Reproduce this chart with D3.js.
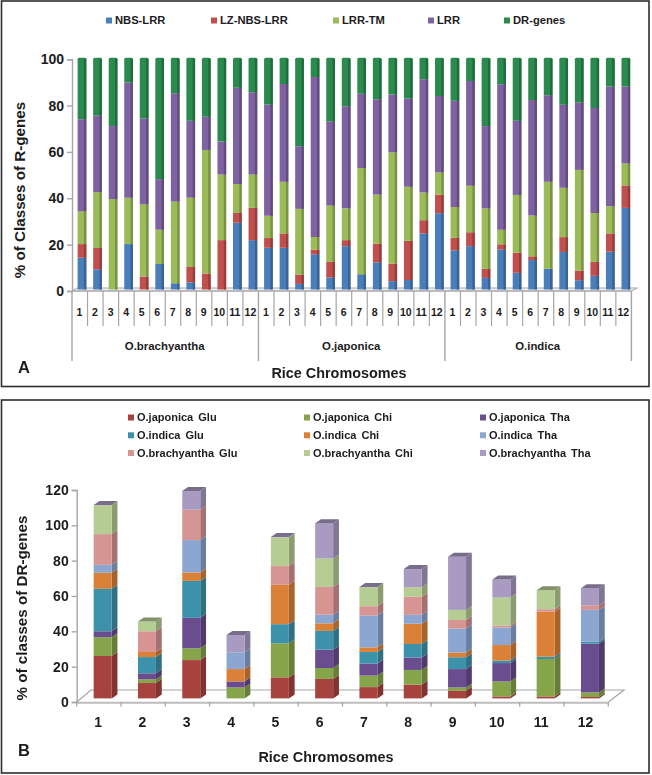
<!DOCTYPE html>
<html><head><meta charset="utf-8">
<script src="https://cdn.jsdelivr.net/npm/d3@7"></script>
<style>
html,body{margin:0;padding:0;background:#fff}
svg{display:block;filter:blur(0.4px)}
text{font-family:"Liberation Sans",Arial,sans-serif;font-weight:bold;fill:#1c1c1c}
</style></head><body><svg id="c" width="652" height="775"></svg>
<script>
// ---------- Panel A data ----------
const classKeys = ["NBS-LRR","LZ-NBS-LRR","LRR-TM","LRR","DR-genes"];
const classColors = ["#4a7ebb","#c0504d","#9bbb59","#7f62a1","#2b8a4e"];
const speciesA = ["O.brachyantha","O.japonica","O.indica"];
const chromosomes = ["1","2","3","4","5","6","7","8","9","10","11","12"];
const brachyShares = [
 [13.7,5.9,14.2,39.6,26.6],[8.7,9.2,24.1,33.1,24.9],[0,0,39,31.5,29.5],[19.6,0,20,49.7,10.7],
 [0,5.6,31.2,37,26.2],[11,0,14.8,21.8,52.4],[2.7,0,35.3,46.7,15.3],[3.1,6.6,29.9,33.2,27.2],
 [0,6.9,53.3,14.3,25.5],[0,21.3,28.3,14.2,36.2],[28.8,4.2,12.5,41.5,13],[21.3,13.9,14.4,35.5,14.9]];
const japonicaShares = [
 [18,4.2,9.6,48,20.2],[18,6.2,22.3,42.2,11.3],[2.4,4,28.4,27,38.2],[15.2,2,5.5,69,8.3],
 [5.2,6.7,24.3,36.3,27.5],[18.7,2.6,13.7,44.1,20.9],[6.6,0,45.8,32.1,15.5],[11.7,8,21.3,41.1,17.9],
 [3.6,7.6,48,24.9,15.9],[4.1,16.9,23.3,38.1,17.6],[24.2,5.7,11.9,48.9,9.3],[32.9,8,9.6,33,16.5]];
const indicaShares = [
 [16.9,5.4,13.3,45.8,18.6],[18.7,6,20.1,45.2,10],[5,3.9,26.1,35.5,29.5],[17.3,2.2,6.3,62.8,11.4],
 [7.2,8.7,24.9,32,27.2],[12.7,1.6,17.6,49.8,18.3],[9,0,37.5,37.3,16.2],[16.2,6.4,21.3,35.8,20.3],
 [4,4.2,43.4,29.1,19.3],[5.9,6,21.1,45.3,21.7],[16.3,7.9,11.7,51.7,12.4],[35.2,9.7,9.5,33.2,12.4]];
const ticksA = [0,20,40,60,80,100];

// ---------- Panel B data ----------
const drKeys = ["O.japonica Glu","O.japonica Chi","O.japonica Tha","O.indica Glu","O.indica Chi","O.indica Tha","O.brachyantha Glu","O.brachyantha Chi","O.brachyantha Tha"];
const drColors = ["#a8423f","#86a44a","#6a4d8e","#3d92ab","#da8137","#8ba6d0","#d69492","#b5cc92","#a99ac1"];
const japonicaGlu = [24,8.7,21.7,0,11.9,11,6.4,7.8,4.3,1.1,1.1,0.8];
const japonicaChi = [10.6,2.1,6.7,6.2,19.3,6.2,6.5,8.3,1.9,8.5,21.2,2.6];
const japonicaTha = [3.4,3.4,17.2,3.4,0,10.4,6.8,7,10.4,10.4,0,27.6];
const indicaGlu = [24,9.2,20.9,0,10.8,10.6,6.6,7.7,6.7,1.4,1.3,1.1];
const indicaChi = [9.1,2.9,4.8,7,22.3,4.3,2.6,11.5,2.6,8.8,25.5,0];
const indicaTha = [4.5,0,18.3,9.5,0,4.9,18,5,13.6,9.9,0,18];
const brachyGlu = [17.4,11.7,17.2,0,10.6,15.7,5.3,10.2,4.9,1.1,1.4,2.6];
const brachyChi = [16.3,5.5,0,0,16.2,16.1,10.7,5.4,5.7,15.9,10.7,0];
const brachyTha = [0.2,0,10.6,9.8,0.2,20,0.2,10.3,30.1,10.2,0,9.7];
const ticksB = [0,20,40,60,80,100,120];

// ---------- Layout constants ----------
const svg = d3.select("#c");
const grey = "#a6a6a6";
function frame(x,y,w,h){
  svg.append("rect").attr("x",x).attr("y",y).attr("width",w).attr("height",h)
    .attr("fill","#fff").attr("stroke","#2e2e2e").attr("stroke-width",1.6);
}
frame(1.5,1,647.5,385.5);
frame(1.5,400,647.5,373);

function line(g,x1,y1,x2,y2,c,w){
  g.append("line").attr("x1",x1).attr("y1",y1).attr("x2",x2).attr("y2",y2)
   .attr("stroke",c||grey).attr("stroke-width",w||1.3);
}
function label(g,x,y,t,size,anchor){
  return g.append("text").attr("x",x).attr("y",y).attr("dy","0.35em")
    .attr("font-size",size).attr("text-anchor",anchor||"middle").text(t);
}

// ---------- Panel A ----------
const gA = svg.append("g");
const rowsA = [...brachyShares,...japonicaShares,...indicaShares].map((r,i)=>{
  const o = {id:i}; classKeys.forEach((k,j)=>o[k]=r[j]); return o;});
const xA = d3.scaleBand().domain(d3.range(36)).range([72,631.4]).paddingInner(0.44).paddingOuter(0.22);
const yA = d3.scaleLinear().domain([0,100]).range([291,59.2]);
const stackA = d3.stack().keys(classKeys)(rowsA);
const ax0 = 72, ax1 = 631.4, ay0 = yA(0);
// floor
gA.append("path").attr("d",`M${ax0},${ay0}L${ax0+5},${ay0-3}H${ax1+6}L${ax1},${ay0}`).attr("fill","#f2f2f2").attr("stroke",grey).attr("stroke-width",1);
// y axis
const axisA = gA.append("g").attr("transform",`translate(${ax0},0)`)
  .call(d3.axisLeft(yA).tickValues(ticksA).tickSize(5).tickPadding(3));
axisA.selectAll("path,line").attr("stroke",grey).attr("stroke-width",1.4);
axisA.selectAll("text").attr("font-size",14).attr("font-family",null);
// bars
const dxA = 2.2, dyA = -1.5;
stackA.forEach((s,si)=>{
  const col = d3.color(classColors[si]);
  s.forEach(d=>{
    const x = xA(d.data.id)+dxA, w = xA.bandwidth(), y0 = yA(d[0])+dyA, y1 = yA(d[1])+dyA;
    if (d[1]-d[0] <= 0) return;
    const top = si === classKeys.length-1;
    const p = d3.path();
    p.moveTo(x,y0); p.lineTo(x,y1+(top?1.5:0));
    if(top) p.quadraticCurveTo(x,y1,x+1.5,y1);
    p.lineTo(x+w-(top?1.5:0),y1);
    if(top) p.quadraticCurveTo(x+w,y1,x+w,y1+1.5);
    p.lineTo(x+w,y0); p.closePath();
    gA.append("path").attr("d",p.toString()).attr("fill",col.formatHex());
    gA.append("rect").attr("x",x+w-2.4).attr("y",y1+(top?1:0)).attr("width",2.4).attr("height",y0-y1-(top?1:0))
      .attr("fill",col.darker(0.7).formatHex());
  });
});
// baseline + multi-level axis
line(gA,ax0,ay0,ax1,ay0,grey,1.4);
d3.range(37).forEach(i=>{
  const xx = ax0 + i*(ax1-ax0)/36;
  const major = i%12===0;
  line(gA,xx,ay0,xx,major?361:326,grey,major?1.4:1.2);
});
rowsA.forEach((d,i)=>{
  label(gA,xA(i)+xA.bandwidth()/2-0.3,312,chromosomes[i%12],10.5);
});
speciesA.forEach((s,i)=>{
  label(gA,ax0+(i+0.5)*(ax1-ax0)/3-0.5,346,s,11.4);
});
// legend A
const legAx = [106,211,333,428,504];
classKeys.forEach((k,i)=>{
  gA.append("rect").attr("x",legAx[i]).attr("y",17.5).attr("width",6).attr("height",6).attr("fill",classColors[i]);
  label(gA,legAx[i]+9,20.5,k,11.2,"start");
});
label(gA,20,190,"% of Classes of R-genes",15.2).attr("transform","rotate(-90 20 190)");
label(gA,339,373,"Rice Chromosomes",14.4);
label(gA,24,367,"A",16.5);

// ---------- Panel B ----------
const gB = svg.append("g");
const rowsB = chromosomes.map((c,i)=>{
  const vals=[japonicaGlu,japonicaChi,japonicaTha,indicaGlu,indicaChi,indicaTha,brachyGlu,brachyChi,brachyTha];
  const o={c}; drKeys.forEach((k,j)=>o[k]=vals[j][i]); return o;});
const xB = d3.scaleBand().domain(chromosomes).range([76.7,608.3]).paddingInner(0.594).paddingOuter(0.297);
const yB = d3.scaleLinear().domain([0,120]).range([702,490]);
const stackB = d3.stack().keys(drKeys)(rowsB);
const by0 = yB(0);
gB.append("path").attr("d",`M76.7,${by0}L91,${by0-12}H624L608.3,${by0}`).attr("fill","none").attr("stroke",grey).attr("stroke-width",1.2);
line(gB,76.7,by0+0.8,608.3,by0+0.8,"#bdbdbd",2);
const axisB = gB.append("g").attr("transform","translate(76.7,0)")
  .call(d3.axisLeft(yB).tickValues(ticksB).tickSize(5).tickPadding(3));
axisB.selectAll("path,line").attr("stroke",grey).attr("stroke-width",1.4);
axisB.selectAll("text").attr("font-size",14).attr("font-family",null);
const xAxisB = gB.append("g").attr("transform",`translate(-0.7,${by0})`)
  .call(d3.axisBottom(xB).tickSize(0).tickPadding(15));
xAxisB.select("path").remove();
xAxisB.selectAll("text").attr("font-size",14).attr("font-family",null);
d3.range(13).forEach(i=>{const xx=76.7+i*(608.3-76.7)/12; line(gB,xx,by0,xx,by0+4.5,grey,1.3);});
const dxB = 3.8, dyB = -3.6, sideW = 5.8, sideH = 4;
stackB.forEach((s,si)=>{
  const col = d3.color(drColors[si]);
  s.forEach(d=>{
    if (d[1]-d[0] <= 0) return;
    const x = xB(d.data.c)+dxB, w = xB.bandwidth(), y0=yB(d[0])+dyB, y1=yB(d[1])+dyB;
    gB.append("path").attr("d",`M${x+w},${y0}L${x+w+sideW},${y0-sideH}V${y1-sideH}L${x+w},${y1}Z`)
      .attr("fill",col.darker(0.75).formatHex());
    gB.append("rect").attr("x",x).attr("y",y1).attr("width",w).attr("height",y0-y1).attr("fill",col.formatHex());
    const isTop = d3.sum(drKeys.slice(si+1),k=>d.data[k])===0;
    if(isTop){
      gB.append("path").attr("d",`M${x},${y1}L${x+sideW},${y1-sideH}H${x+w+sideW}L${x+w},${y1}Z`)
        .attr("fill",col.darker(0.95).formatHex());
    }
  });
});
// legend B
const legBx = [128,304,480], legBy = [417.5,435.3,453];
drKeys.forEach((k,i)=>{
  const cx = legBx[i%3], cy = legBy[Math.floor(i/3)];
  gB.append("rect").attr("x",cx).attr("y",cy-3).attr("width",6).attr("height",6).attr("fill",drColors[i]);
  label(gB,cx+9,cy,k,11,"start").attr("word-spacing",2);
});
label(gB,22,608,"% of classes of DR-genes",15.2).attr("transform","rotate(-90 22 608)");
label(gB,326,757,"Rice Chromosomes",14.4);
label(gB,24,750,"B",16.5);
</script></body></html>
